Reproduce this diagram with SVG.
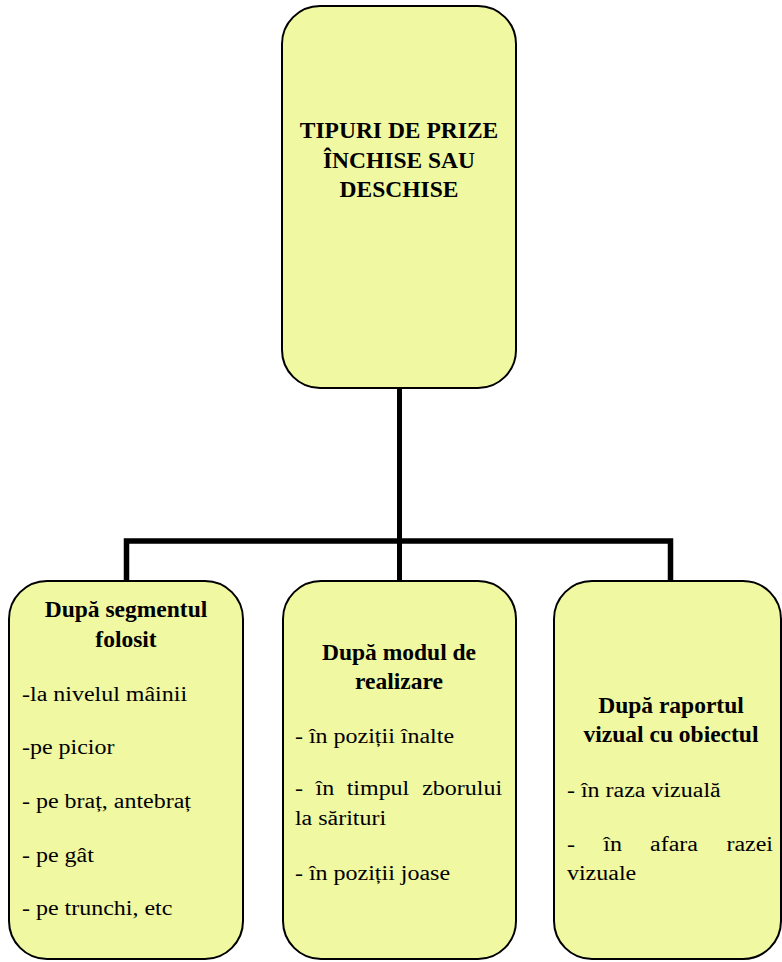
<svg xmlns="http://www.w3.org/2000/svg" width="782" height="962" viewBox="0 0 782 962">
<style>
.box{fill:#f0f8a2;stroke:#000;stroke-width:2}
.conn{fill:none;stroke:#000;stroke-width:5;stroke-linejoin:miter}
</style>
<rect width="782" height="962" fill="#fff"/>
<g id="connectors">
<path class="conn" d="M399.5,388 V581"/>
<path class="conn" d="M126.5,581 V541 H670.5 V581" style="stroke-width:5.5"/>
</g>
<g id="root">
<rect class="box" x="282" y="6" width="234" height="382" rx="38" ry="38"/>
<text x="399" y="138" font-family="Liberation Serif" font-size="23.5" font-weight="bold" text-anchor="middle">TIPURI DE PRIZE</text>
<text x="399" y="168" font-family="Liberation Serif" font-size="23.5" font-weight="bold" text-anchor="middle">ÎNCHISE SAU</text>
<text x="399" y="197" font-family="Liberation Serif" font-size="23.5" font-weight="bold" text-anchor="middle">DESCHISE</text>
</g>
<g id="segment">
<rect class="box" x="9" y="581" width="234" height="378" rx="38" ry="38"/>
<text x="126" y="617" font-family="Liberation Serif" font-size="23.5" font-weight="bold" text-anchor="middle">După segmentul</text>
<text x="126" y="647" font-family="Liberation Serif" font-size="23.5" font-weight="bold" text-anchor="middle">folosit</text>
<g transform="scale(1.17,1)">
<text x="18.8" y="701" font-family="Liberation Serif" font-size="20.5">-la nivelul mâinii</text>
<text x="18.8" y="754" font-family="Liberation Serif" font-size="20.5">-pe picior</text>
<text x="18.8" y="808" font-family="Liberation Serif" font-size="20.5">- pe braț, antebraț</text>
<text x="18.8" y="862" font-family="Liberation Serif" font-size="20.5">- pe gât</text>
<text x="18.8" y="915" font-family="Liberation Serif" font-size="20.5">- pe trunchi, etc</text>
</g>
</g>
<g id="mod">
<rect class="box" x="283" y="581" width="233" height="378" rx="38" ry="38"/>
<text x="399" y="660" font-family="Liberation Serif" font-size="23.5" font-weight="bold" text-anchor="middle">După modul de</text>
<text x="399" y="689" font-family="Liberation Serif" font-size="23.5" font-weight="bold" text-anchor="middle">realizare</text>
<g transform="scale(1.17,1)">
<text x="252.1" y="743" font-family="Liberation Serif" font-size="20.5">- în poziții înalte</text>
<text x="252.1" y="795" font-family="Liberation Serif" font-size="20.5">-</text>
<text x="269.7" y="795" font-family="Liberation Serif" font-size="20.5">în</text>
<text x="296.3" y="795" font-family="Liberation Serif" font-size="20.5">timpul</text>
<text x="429.1" y="795" font-family="Liberation Serif" font-size="20.5" text-anchor="end">zborului</text>
<text x="252.1" y="825" font-family="Liberation Serif" font-size="20.5">la sărituri</text>
<text x="252.1" y="880" font-family="Liberation Serif" font-size="20.5">- în poziții joase</text>
</g>
</g>
<g id="raport">
<rect class="box" x="554" y="581" width="227" height="378" rx="38" ry="38"/>
<text x="671" y="713" font-family="Liberation Serif" font-size="23.5" font-weight="bold" text-anchor="middle">După raportul</text>
<text x="671" y="742" font-family="Liberation Serif" font-size="23.5" font-weight="bold" text-anchor="middle">vizual cu obiectul</text>
<g transform="scale(1.17,1)">
<text x="484.6" y="797" font-family="Liberation Serif" font-size="20.5">- în raza vizuală</text>
<text x="484.6" y="851" font-family="Liberation Serif" font-size="20.5">-</text>
<text x="515.6" y="851" font-family="Liberation Serif" font-size="20.5">în</text>
<text x="555.6" y="851" font-family="Liberation Serif" font-size="20.5">afara</text>
<text x="660.7" y="851" font-family="Liberation Serif" font-size="20.5" text-anchor="end">razei</text>
<text x="484.6" y="880" font-family="Liberation Serif" font-size="20.5">vizuale</text>
</g>
</g>
</svg>
